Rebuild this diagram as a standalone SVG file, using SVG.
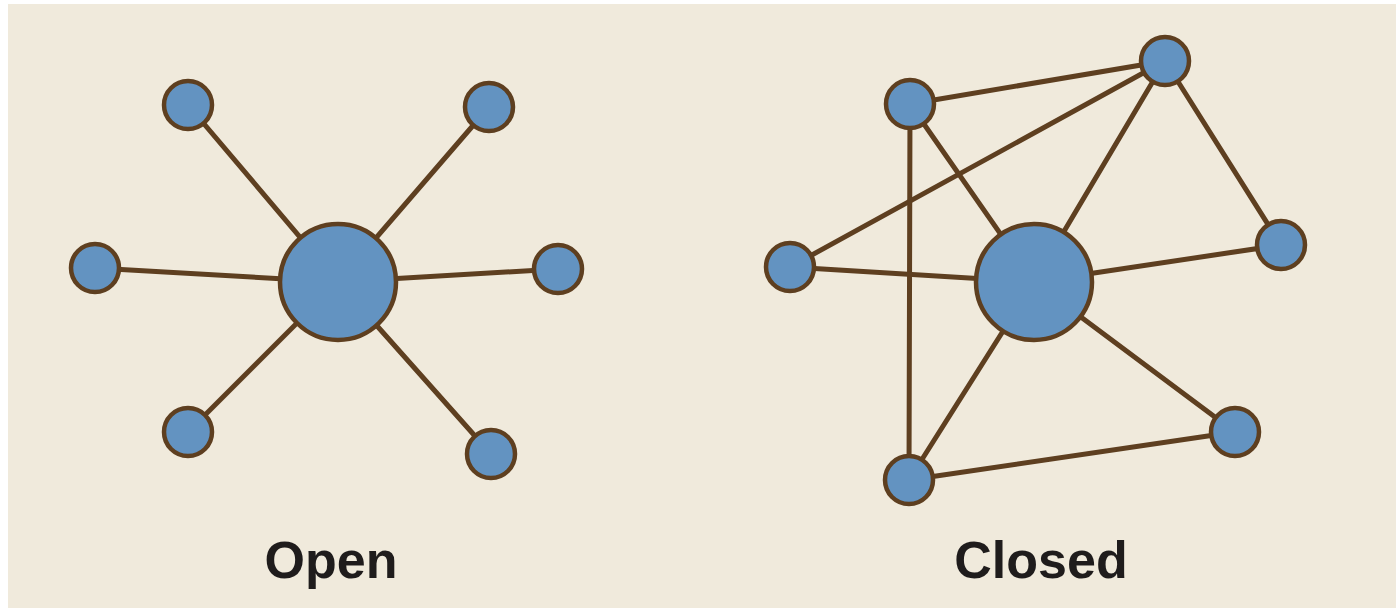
<svg xmlns="http://www.w3.org/2000/svg" width="1396" height="612" viewBox="0 0 1396 612">
  <style>
    .edge { stroke: #5E3F20; stroke-width: 5; stroke-linecap: round; fill: none; }
    .node { fill: #6393C1; stroke: #5E3F20; stroke-width: 4.5; }
    .label { font-family: "Liberation Sans", Arial, sans-serif; font-weight: bold; font-size: 52px; fill: #1F1C1C; text-anchor: middle; }
  </style>
  <rect x="0" y="0" width="1396" height="612" fill="#FFFFFF"/>
  <rect x="8" y="4" width="1388" height="604" fill="#F0EADC"/>

  <!-- Open network: spokes from a central hub -->
  <g id="open-edges">
    <line class="edge" x1="338" y1="282" x2="188" y2="105"/>
    <line class="edge" x1="338" y1="282" x2="489" y2="107"/>
    <line class="edge" x1="338" y1="282" x2="95" y2="268"/>
    <line class="edge" x1="338" y1="282" x2="558" y2="269"/>
    <line class="edge" x1="338" y1="282" x2="188" y2="432"/>
    <line class="edge" x1="338" y1="282" x2="491" y2="454"/>
  </g>
  <g id="open-hub"><circle class="node" cx="338" cy="282" r="58"/></g>
  <g id="open-n1"><circle class="node" cx="188" cy="105" r="24"/></g>
  <g id="open-n2"><circle class="node" cx="489" cy="107" r="24"/></g>
  <g id="open-n3"><circle class="node" cx="95" cy="268" r="24"/></g>
  <g id="open-n4"><circle class="node" cx="558" cy="269" r="24"/></g>
  <g id="open-n5"><circle class="node" cx="188" cy="432" r="24"/></g>
  <g id="open-n6"><circle class="node" cx="491" cy="454" r="24"/></g>
  <text class="label" x="331" y="578">Open</text>

  <!-- Closed network: hub plus links among the outer nodes -->
  <g id="closed-edges">
    <line class="edge" x1="910" y1="104" x2="1165" y2="61"/>
    <line class="edge" x1="790" y1="267" x2="1165" y2="61"/>
    <line class="edge" x1="910" y1="104" x2="909" y2="480"/>
    <line class="edge" x1="910" y1="104" x2="1034" y2="282"/>
    <line class="edge" x1="1165" y1="61" x2="1034" y2="282"/>
    <line class="edge" x1="1165" y1="61" x2="1281" y2="245"/>
    <line class="edge" x1="790" y1="267" x2="1034" y2="282"/>
    <line class="edge" x1="1034" y1="282" x2="1281" y2="245"/>
    <line class="edge" x1="1034" y1="282" x2="1235" y2="432"/>
    <line class="edge" x1="1034" y1="282" x2="909" y2="480"/>
    <line class="edge" x1="909" y1="480" x2="1235" y2="432"/>
  </g>
  <g id="closed-hub"><circle class="node" cx="1034" cy="282" r="58"/></g>
  <g id="closed-n1"><circle class="node" cx="910" cy="104" r="24"/></g>
  <g id="closed-n2"><circle class="node" cx="1165" cy="61" r="24"/></g>
  <g id="closed-n3"><circle class="node" cx="790" cy="267" r="24"/></g>
  <g id="closed-n4"><circle class="node" cx="1281" cy="245" r="24"/></g>
  <g id="closed-n5"><circle class="node" cx="1235" cy="432" r="24"/></g>
  <g id="closed-n6"><circle class="node" cx="909" cy="480" r="24"/></g>
  <text class="label" x="1041" y="578">Closed</text>
</svg>
